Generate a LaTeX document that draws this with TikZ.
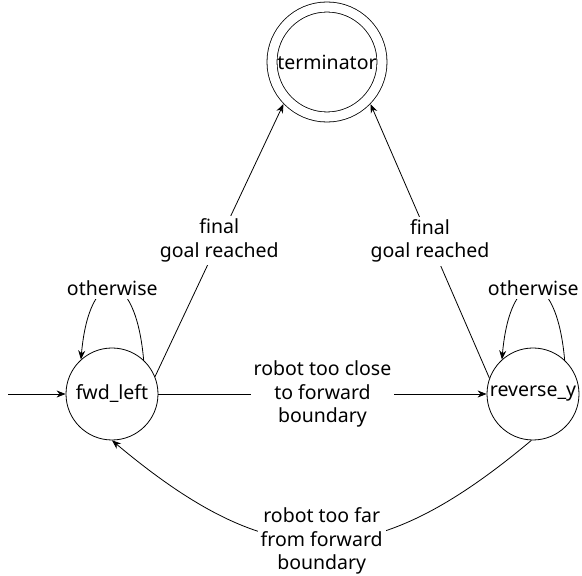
\documentclass[tikz,border=0pt]{standalone}
\usepackage{fontspec}
\setmainfont{Noto Sans}
\usepackage{tikz}
\usetikzlibrary{shapes,arrows.meta}

\begin{document}
\begin{tikzpicture}[x=1pt, y=1pt, line width=0.8pt]
\tikzstyle{state} = [circle, draw, minimum size=92pt, inner sep=0pt]
\tikzstyle{final} = [circle, draw, double, double distance=9.2pt, minimum size=110pt, inner sep=0pt, outer sep=5.5pt]
\tikzstyle{lbl} = [fill=white, align=center, inner sep=3pt]
\tikzstyle{trans} = [-{Stealth[length=9pt, width=7pt]}]
\fontsize{19.5}{23.5}\selectfont
\useasboundingbox (0,0) rectangle (582,576);
% states
\node[final] (term) at (327,514) {terminator};
\node[state] (fwd) at (112,182) {fwd\_left};
\node[state] (rev) at (533,182) {reverse\_y};
\coordinate (init) at (8,182);
% transitions
\draw[trans] (init) -- (fwd.west);
\draw[trans] (fwd.east) -- node[lbl] {robot too close\\to forward\\boundary} (rev.west);
\draw[trans] (fwd.22) -- node[lbl] {final\\goal reached} (term.224);
\draw[trans] (rev.160) -- node[lbl] {final\\goal reached} (term.316);
\draw[trans] (fwd.47) to[out=95, in=85, looseness=3.9]
	node[lbl] {otherwise} (fwd.132);
\draw[trans] (rev.47) to[out=95, in=85, looseness=3.9]
	node[lbl] {otherwise} (rev.132);
\draw[trans] (rev.268) to[out=220, in=-40, looseness=1.28]
	node[lbl] {robot too far\\from forward\\boundary} (fwd.270);
\end{tikzpicture}
\end{document}
